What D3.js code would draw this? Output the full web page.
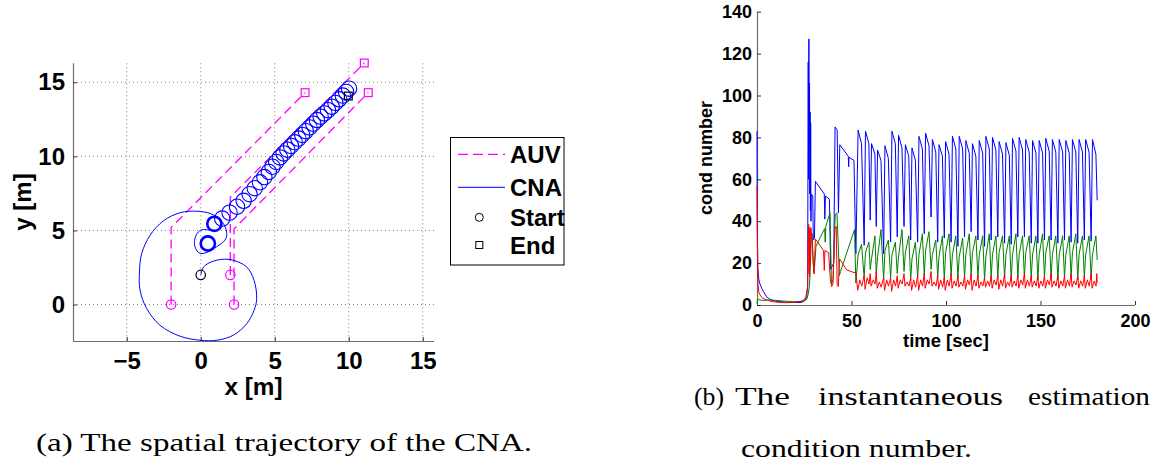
<!DOCTYPE html>
<html><head><meta charset="utf-8">
<script src="https://cdn.jsdelivr.net/npm/d3@7"></script>
<style>body{margin:0;background:#fff}svg{display:block}</style>
</head><body>
<svg id="c" width="1158" height="470"></svg>
<script>
// ---------- LEFT PLOT DATA (metres) ----------
const xTicksL = [-5, 0, 5, 10, 15];
const yTicksL = [0, 5, 10, 15];
const auv1 = [[-2, 0], [-2, 5.2], [7.05, 14.3]];
const auv2 = [[2, 2], [2, 7.25], [11.05, 16.3]];
const auv3 = [[2.25, 0], [2.25, 5.1], [11.32, 14.3]];
const auvStarts = [[-2, 0], [2, 2], [2.25, 0]];
const auvEnds = [[7.05, 14.3], [11.05, 16.3], [11.32, 14.3]];
const cnaStart = [0, 2];
const cnaEnd = [9.97, 14.07];
const cnaSpiral = [[0, 2], [0.2, 2.54], [0.85, 2.93], [1.98, 3.04], [3.1, 2.54], [3.6, 1.64],
  [3.78, 0.4], [3.6, -0.4], [3.11, -1.29], [2.2, -2.07], [1.08, -2.41], [-0.04, -2.41],
  [-1.39, -2.14], [-2.75, -1.4], [-3.65, -0.27], [-4.1, 0.97], [-4.14, 2.2], [-3.99, 3.44],
  [-3.42, 4.68], [-2.52, 5.65], [-1.39, 6.2], [-0.27, 6.3], [0.63, 6.15], [1.08, 5.92],
  [1.53, 5.47], [1.76, 4.8], [1.64, 4.35], [1.08, 3.9], [0.51, 3.56], [-0.05, 3.45],
  [-0.39, 3.9], [-0.39, 4.46], [-0.16, 4.9], [0.18, 5.07], [0.6, 5.0]];
const thickLoops = [[0.48, 4.12], [0.92, 5.45]];
const loopCenters = [[1.45, 5.8], [1.95, 6.2], [2.45, 6.6], [2.9, 7.0], [3.3, 7.45], [3.65, 7.85],
  [4.0, 8.25], [4.3, 8.6], [4.6, 8.95], [4.85, 9.3], [5.1, 9.62], [5.35, 9.93], [5.6, 10.2],
  [5.85, 10.45], [6.1, 10.7], [6.35, 10.95], [6.6, 11.2], [6.85, 11.45], [7.1, 11.7], [7.35, 11.95],
  [7.6, 12.2], [7.85, 12.45], [8.1, 12.68], [8.35, 12.9], [8.6, 13.12], [8.85, 13.35], [9.1, 13.6],
  [9.35, 13.85], [9.6, 14.1], [9.82, 14.35], [10.02, 14.57]];
const loopRadius = 0.52;
const legendLabels = ["AUV", "CNA", "Start", "End"];

// ---------- RIGHT PLOT DATA ----------
const xTicksR = [0, 50, 100, 150, 200];
const yTicksR = [0, 20, 40, 60, 80, 100, 120, 140];
const blueEarly = [[0,83],[0.15,40],[0.4,18],[1,12],[1.6,10],[2.5,8],[3.4,6.4],[5,4],[6.9,2.7],[9,2],[12,1.6],[16,1.3],[20,1.2],[23.6,1.2],[24.8,1.8],[25.6,2.6],[26.3,4],[26.8,9],[27.1,116],[27.25,60],[27.45,127],[27.6,77],[27.8,106],[27.95,53],[28.1,92],[28.25,45],[28.4,87],[28.55,40],[28.7,53],[29.5,52],[29.8,31],[30.4,32],[30.9,59],[35.6,53],[35.9,41],[36.2,52],[38.3,50.5],[39.0,17],[40,19],[40.6,20],[41.3,85],[42.4,83.5],[43.1,44],[43.8,76.5],[48.3,71],[48.5,66],[48.7,70.5],[51.3,69],[52.3,24.5]];
const greenEarly = [[0,0.5],[0.3,3],[1,2.5],[3,2.2],[6,2.4],[10,2.2],[15,1.8],[20,1.6],[24.5,1.6],[26.3,2.7],[27.2,5.6],[27.8,10],[28.3,20],[28.7,32],[29.2,34],[29.7,20],[30.2,15],[31.2,28],[35.8,36.5],[36.1,30],[36.4,37.5],[38.6,44],[39.4,10],[40.2,12],[41.4,43],[42.3,44],[43.6,14],[44.2,16],[51.6,36],[52.3,10.5]];
const redEarly = [[0,57],[0.2,30],[0.5,10],[1,6],[1.6,4.8],[3,3.2],[5.1,2.4],[8,1.6],[12,1.2],[16,1.1],[20,1.3],[23,1.8],[24.9,2.4],[25.9,4],[26.8,8.8],[27.2,34],[27.35,38.5],[27.55,15],[27.7,37],[27.85,13.5],[28.0,36],[28.2,20],[28.5,37],[29.1,31],[29.7,22],[30.2,15],[30.9,31.5],[35.2,26],[35.6,16.5],[35.9,26],[37.9,25],[38.8,12],[39.5,8.8],[40.2,10.3],[41.2,36],[41.9,37.5],[42.4,10],[43,8.8],[43.7,22],[47.5,16.7],[51.3,15.5],[52.3,15.5]];
// periodic part: one entry per CNA loop (cycle start = blue jump time)
const cycleT = [53.5,57.4,60.6,63.8,67.7,71.4,74.9,78.5,82.0,85.7,89.2,92.8,96.3,99.8,103.4,107.0,110.5,114.0,117.6,121.1,124.6,128.1,131.7,135.2,138.7,142.2,145.8,149.3,152.8,156.3,159.9,163.4,166.9,170.4,173.9,177.5];
const bluePeak = [83.5,83,77,74,76,83,81,76.5,75,80.5,82,79,76.5,78,80.5,80.5,78.5,77,78.5,80.5,80,78,77.5,79.5,80,79,78.5,78.5,79.5,79,79,78.5,79,79,79,79];
const blueDrop = [77,77,72,69,70,77,75,71,69,74.5,76,73,71,72,74.5,74.5,72.5,71,72.5,74.5,74,72,71.5,73.5,74,73,72.5,72.5,73.5,73,73,72.5,73,73,73,72];
const blueLow = [28.5,40.5,37.5,24.5,30,32.5,37.5,31,30,34,42,30,32,30,28,32.5,35,31,28,31,32.5,29.5,29,32.5,32.5,29.5,29.5,31,31,29.5,31,30,29.5,31,30.5];
const greenStart = [24,25,22,23,26,24,23,25,22,24,26,24,23,25,24,23,24,25,24,23,24,25,24,24,24,25,24,24,25,24,24,24,25,24,24,24];
const greenTop = [29,30,33,36,31,30,36,33,30,34,35,31,33,34,33,32,34,33,33,34,33,33,33,34,33,33,33,34,33,33,33,33,34,33,33,33];
const greenLow = [13,17,15,12,13,15,16,12,13,14,17,13,12,14,13,13,14,13,12,13,13,13,12,13,13,13,12,13,13,12,13,13,12,13,13];
const redLow1 = [7,7.5,9,8,7,6.5,8,9,7,7,8,9,7.5,7,8,8.5,7.5,7,8,8.5,8,7.5,8,8.5,8,8,8.5,8,8,8.5,8,8,8.5,8,8,8];
const redMid = [12,13,12,11,12,12,12,11,12,12,12,11,12,12,11.5,11,12,12,11,11.5,12,12,11,11.5,12,12,11.5,11.5,12,11.5,11.5,12,11.5,11.5,12,11.5];
const redLow2 = [9,10,10,8.5,9,9,10,9,8.5,9,10,9,8.5,9,9,9,9.5,9,9,9,9.5,9,9,9,9.5,9,9,9,9.5,9,9,9,9.5,9,9,9];
const redTop = [14,15,16,13,13,14,15,13,14,15,16,14,13,15,14,14,15,14,13,14,14,15,14,14,15,14,14,14,15,14,14,15,14,14,15];
const blueEnd = [[180,50]];
const greenEnd = [[180,21.5]];
const redEnd = [[179.8,15],[180,10.5]];

// ---------- build series tables ----------
const n = cycleT.length;
const blue = blueEarly.slice(), green = greenEarly.slice(), red = redEarly.slice();
for (let i = 0; i < n; i++) {
  const t = cycleT[i], tn = i < n - 1 ? cycleT[i + 1] : null;
  blue.push([t, bluePeak[i]], [t + 1.8, blueDrop[i]]);
  green.push([t, greenStart[i]], [t + 1.8, greenTop[i]]);
  red.push([t - 0.2, redLow1[i]], [t + 0.9, redMid[i]], [t + 1.9, redLow2[i]]);
  if (tn !== null) {
    blue.push([tn - 0.7, blueLow[i]]);
    green.push([tn - 0.7, greenLow[i]]);
    red.push([tn - 0.7, redTop[i]]);
  }
}
blue.push(...blueEnd); green.push(...greenEnd); red.push(...redEnd);

// ---------- drawing ----------
const svg = d3.select("#c");
svg.append("rect").attr("width", 1158).attr("height", 470).attr("fill", "#fff");
const axisCol = "#6e6e6e";
const FONT = "'Liberation Sans', Arial, Helvetica, sans-serif";

// LEFT
const xL = d3.scaleLinear().domain([-8.63, 15.76]).range([73, 434]);
const yL = d3.scaleLinear().domain([-2.46, 16.28]).range([341, 63.3]);
const gL = svg.append("g");
gL.selectAll(".gx").data(xTicksL).join("line")
  .attr("x1", d => xL(d)).attr("x2", d => xL(d)).attr("y1", yL.range()[1]).attr("y2", yL.range()[0])
  .attr("stroke", "#808080").attr("stroke-dasharray", "1,3").attr("stroke-width", 1);
gL.selectAll(".gy").data(yTicksL).join("line")
  .attr("x1", xL.range()[0]).attr("x2", xL.range()[1]).attr("y1", d => yL(d)).attr("y2", d => yL(d))
  .attr("stroke", "#808080").attr("stroke-dasharray", "1,3").attr("stroke-width", 1);
const axL = d3.axisBottom(xL).tickValues(xTicksL).tickSize(-4).tickPadding(12)
  .tickFormat(d => d < 0 ? "\u2212" + Math.abs(d) : d);
const gax = gL.append("g").attr("transform", "translate(0,341)").call(axL);
const ayL = d3.axisLeft(yL).tickValues(yTicksL).tickSize(-4).tickPadding(8);
const gay = gL.append("g").attr("transform", "translate(73,0)").call(ayL);
[gax, gay].forEach(g => {
  g.select(".domain").attr("stroke", axisCol).attr("stroke-width", 1.2);
  g.selectAll(".tick line").attr("stroke", "#333");
  g.selectAll("text").attr("font-family", FONT).attr("font-weight", "bold").attr("font-size", 24).attr("fill", "#000");
});
gax.select(".domain").attr("d", "M73,0.5H434");
gay.select(".domain").attr("d", "M0.5,341V63.3");
gax.selectAll("text").attr("dy", "0.71em").attr("y", 10.5);
gL.append("text").attr("x", 253.5).attr("y", 395).attr("text-anchor", "middle")
  .attr("font-family", FONT).attr("font-weight", "bold").attr("font-size", 23)
  .attr("textLength", 58).attr("lengthAdjust", "spacingAndGlyphs").text("x [m]");
gL.append("text").attr("transform", "translate(31,202) rotate(-90)").attr("text-anchor", "middle")
  .attr("font-family", FONT).attr("font-weight", "bold").attr("font-size", 24).text("y [m]");

const lineL = d3.line().x(d => xL(d[0])).y(d => yL(d[1]));
const sc = xL(1) - xL(0);
gL.selectAll(".auv").data([auv1, auv2, auv3]).join("path")
  .attr("d", lineL).attr("fill", "none").attr("stroke", "#ff00ff").attr("stroke-width", 1.3)
  .attr("stroke-dasharray", "9,5");
gL.append("path").attr("d", d3.line().x(d => xL(d[0])).y(d => yL(d[1])).curve(d3.curveCatmullRom)(cnaSpiral))
  .attr("fill", "none").attr("stroke", "#0000ff").attr("stroke-width", 1);
gL.selectAll(".loop").data(loopCenters).join("circle")
  .attr("cx", d => xL(d[0])).attr("cy", d => yL(d[1])).attr("r", loopRadius * sc)
  .attr("fill", "none").attr("stroke", "#0000ff").attr("stroke-width", 1.1);
gL.selectAll(".tloop").data(thickLoops).join("circle")
  .attr("cx", d => xL(d[0])).attr("cy", d => yL(d[1])).attr("r", 0.48 * sc)
  .attr("fill", "none").attr("stroke", "#0000ff").attr("stroke-width", 2.6);
gL.selectAll(".as").data(auvStarts).join("circle")
  .attr("cx", d => xL(d[0])).attr("cy", d => yL(d[1])).attr("r", 4.7)
  .attr("fill", "none").attr("stroke", "#ff00ff").attr("stroke-width", 1.2);
gL.selectAll(".ae").data(auvEnds).join("rect")
  .attr("x", d => xL(d[0]) - 3.9).attr("y", d => yL(d[1]) - 3.9).attr("width", 7.8).attr("height", 7.8)
  .attr("fill", "none").attr("stroke", "#ff00ff").attr("stroke-width", 1.2);
gL.append("circle").attr("cx", xL(cnaStart[0])).attr("cy", yL(cnaStart[1])).attr("r", 4.7)
  .attr("fill", "none").attr("stroke", "#000").attr("stroke-width", 1.2);
gL.append("rect").attr("x", xL(cnaEnd[0]) - 3.9).attr("y", yL(cnaEnd[1]) - 3.9).attr("width", 7.8).attr("height", 7.8)
  .attr("fill", "none").attr("stroke", "#000").attr("stroke-width", 1.2);

// legend
const lg = svg.append("g");
lg.append("rect").attr("x", 450.5).attr("y", 137.5).attr("width", 113.5).attr("height", 127.5)
  .attr("fill", "#fff").attr("stroke", "#000").attr("stroke-width", 1);
const rowsY = [154.3, 187.3, 217.3, 245];
lg.append("line").attr("x1", 458).attr("x2", 505).attr("y1", rowsY[0]).attr("y2", rowsY[0])
  .attr("stroke", "#ff00ff").attr("stroke-width", 1.3).attr("stroke-dasharray", "10,5");
lg.append("line").attr("x1", 458).attr("x2", 505).attr("y1", rowsY[1]).attr("y2", rowsY[1])
  .attr("stroke", "#0000ff").attr("stroke-width", 1);
lg.append("circle").attr("cx", 479.3).attr("cy", rowsY[2]).attr("r", 4).attr("fill", "none").attr("stroke", "#000");
lg.append("rect").attr("x", 475.8).attr("y", rowsY[3] - 3.5).attr("width", 7).attr("height", 7).attr("fill", "none").attr("stroke", "#000");
lg.selectAll(".lt").data(legendLabels).join("text")
  .attr("x", 510).attr("y", (d, i) => rowsY[i] + 8.6)
  .attr("font-family", FONT).attr("font-weight", "bold").attr("font-size", 24).text(d => d);

// RIGHT
const xR = d3.scaleLinear().domain([0, 200]).range([757, 1135]);
const yR = d3.scaleLinear().domain([0, 140]).range([305, 11.7]);
const gR = svg.append("g");
const axR = d3.axisBottom(xR).tickValues(xTicksR).tickSize(-4).tickPadding(8);
const ayR = d3.axisLeft(yR).tickValues(yTicksR).tickSize(-4).tickPadding(5);
const gxr = gR.append("g").attr("transform", "translate(0,305)").call(axR);
const gyr = gR.append("g").attr("transform", "translate(757,0)").call(ayR);
[gxr, gyr].forEach(g => {
  g.select(".domain").attr("stroke", axisCol).attr("stroke-width", 1.2);
  g.selectAll(".tick line").attr("stroke", "#333");
  g.selectAll("text").attr("font-family", FONT).attr("font-weight", "bold").attr("font-size", 18).attr("fill", "#000");
});
gxr.select(".domain").attr("d", "M757,0.5H1135");
gyr.select(".domain").attr("d", "M0.5,305V11.7");
gxr.selectAll("text").attr("dy", "0.71em").attr("y", 9.5);
gR.append("text").attr("x", 946).attr("y", 347).attr("text-anchor", "middle")
  .attr("font-family", FONT).attr("font-weight", "bold").attr("font-size", 17.5)
  .attr("textLength", 86).attr("lengthAdjust", "spacingAndGlyphs").text("time [sec]");
gR.append("text").attr("transform", "translate(712,158) rotate(-90)").attr("text-anchor", "middle")
  .attr("font-family", FONT).attr("font-weight", "bold").attr("font-size", 18).text("cond number");
const lineR = d3.line().x(d => xR(d[0])).y(d => yR(d[1]));
[[blue, "#0000ff"], [green, "#008000"], [red, "#ff0000"]].forEach(([s, c]) => {
  gR.append("path").attr("d", lineR(s)).attr("fill", "none").attr("stroke", c).attr("stroke-width", 1);
});

// captions
const SERIF = "'Liberation Serif', 'DejaVu Serif', serif";
svg.append("text").attr("x", 36).attr("y", 451).attr("font-family", SERIF).attr("font-size", 26)
  .attr("textLength", 496).attr("lengthAdjust", "spacingAndGlyphs").text("(a) The spatial trajectory of the CNA.");
const capB = [["(b)", 694, 30], ["The", 735, 55], ["instantaneous", 818, 185], ["estimation", 1028, 122]];
svg.selectAll(".cb").data(capB).join("text").attr("x", d => d[1]).attr("y", 405)
  .attr("font-family", SERIF).attr("font-size", 26).attr("textLength", d => d[2])
  .attr("lengthAdjust", "spacingAndGlyphs").text(d => d[0]);
svg.append("text").attr("x", 741).attr("y", 457).attr("font-family", SERIF).attr("font-size", 26)
  .attr("textLength", 231).attr("lengthAdjust", "spacingAndGlyphs").text("condition number.");
</script>
</body></html>
